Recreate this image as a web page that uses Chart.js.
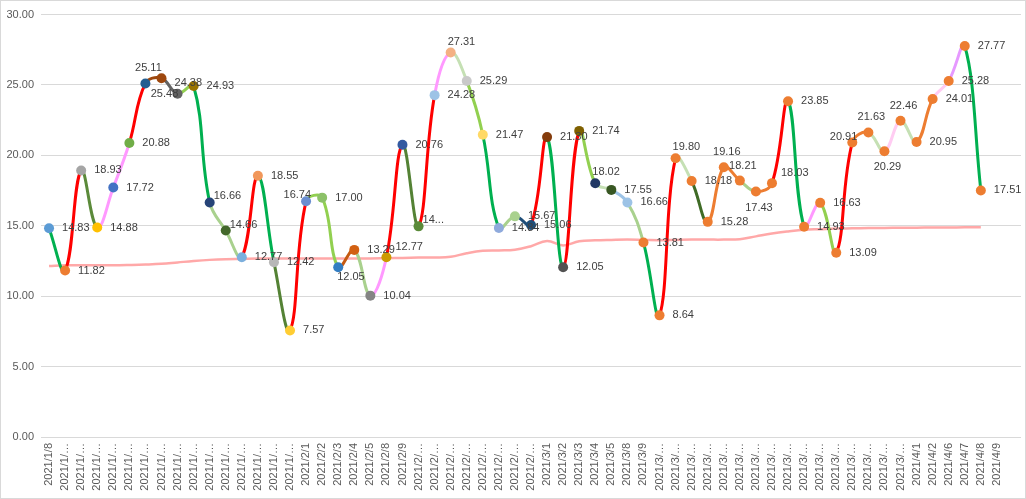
<!DOCTYPE html>
<html>
<head>
<meta charset="utf-8">
<script src="https://cdn.jsdelivr.net/npm/chart.js@4/dist/chart.umd.min.js"></script>
<style>
  body { margin: 0; background: #fff; }
  #wrap { width: 1024px; height: 497px; border: 1px solid #d9d9d9; }
  canvas { display: block; }
</style>
</head>
<body>
<div id="wrap"><canvas id="priceChart" width="1024" height="497"></canvas></div>
<script>
const categories = [
  '2021/1/8', '2021/1/11', '2021/1/12', '2021/1/13', '2021/1/14', '2021/1/15', '2021/1/18', '2021/1/19',
  '2021/1/20', '2021/1/21', '2021/1/22', '2021/1/25', '2021/1/26', '2021/1/27', '2021/1/28', '2021/1/29',
  '2021/2/1', '2021/2/2', '2021/2/3', '2021/2/4', '2021/2/5', '2021/2/8', '2021/2/9',
  '2021/2/10', '2021/2/18', '2021/2/19', '2021/2/22', '2021/2/23', '2021/2/24', '2021/2/25', '2021/2/26',
  '2021/3/1', '2021/3/2', '2021/3/3', '2021/3/4', '2021/3/5', '2021/3/8', '2021/3/9',
  '2021/3/10', '2021/3/11', '2021/3/12', '2021/3/15', '2021/3/16', '2021/3/17', '2021/3/18', '2021/3/19',
  '2021/3/22', '2021/3/23', '2021/3/24', '2021/3/25', '2021/3/26', '2021/3/29', '2021/3/30', '2021/3/31',
  '2021/4/1', '2021/4/2', '2021/4/6', '2021/4/7', '2021/4/8', '2021/4/9', ''
];

const values = [
  14.83, 11.82, 18.93, 14.88, 17.72, 20.88, 25.11, 25.48, 24.38, 24.93, 16.66, 14.66, 12.77, 18.55, 12.42, 7.57,
  16.74, 17.00, 12.05, 13.29, 10.04, 12.77, 20.76,
  14.96, 24.28, 27.31, 25.29, 21.47, 14.84, 15.67, 15.06,
  21.30, 12.05, 21.74, 18.02, 17.55, 16.66, 13.81,
  8.64, 19.80, 18.18, 15.28, 19.16, 18.21, 17.43, 18.03, 23.85, 14.93, 16.63, 13.09, 20.91, 21.63, 20.29, 22.46,
  20.95, 24.01, 25.28, 27.77, 17.51, null, null
];

const averages = [
  12.15, 12.2, 12.2, 12.2, 12.2, 12.22, 12.25, 12.3, 12.4, 12.5, 12.58, 12.63, 12.65, 12.67, 12.67, 12.67,
  12.68, 12.68, 12.68, 12.68, 12.68, 12.7, 12.72,
  12.74, 12.75, 12.8, 13.05, 13.22, 13.25, 13.3, 13.55,
  13.92, 13.6, 13.9, 13.97, 14.0, 14.02, 14.0,
  13.98, 14.0, 14.02, 14.02, 14.02, 14.05, 14.25, 14.45, 14.6, 14.72, 14.76, 14.8, 14.82, 14.84, 14.85, 14.86,
  14.87, 14.88, 14.88, 14.89, 14.9, null, null
];

const yTicks = [0, 5, 10, 15, 20, 25, 30];

// colour of each line piece, from point i to i+1
const segColors = [
  '#00b050', '#ff0000', '#5b8a3a', '#ff99ff', '#ff99ff', '#ff0000', '#9e480e', '#636363', '#92d050', '#00b050',
  '#a9d18e', '#a9d18e', '#ff0000', '#00b050', '#548235', '#ff0000', '#92d050', '#92d050', '#c55a11', '#a9d18e',
  '#ff99ff', '#ff0000', '#548235', '#ff0000', '#ff99ff', '#c5e0b4', '#92d050', '#00b050', '#a9d18e', '#1f4e79',
  '#ff0000', '#00b050', '#ff0000', '#92d050', '#c5e0b4', '#9dc3e6', '#a9d18e', '#00b050', '#ff0000', '#c5e0b4',
  '#3f6b26', '#ed7d31', '#ed7d31', '#a9d18e', '#ed7d31', '#ff0000', '#00b050', '#ff99ff', '#92d050', '#ff0000',
  '#ed7d31', '#c5e0b4', '#ffccf2', '#c5e0b4', '#ed7d31', '#ffccf2', '#e699ff', '#00b050'
];

const pointColors = [
  '#5b9bd5', '#ed7d31', '#a5a5a5', '#ffc000', '#4472c4', '#70ad47', '#255e91', '#9e480e', '#636363', '#997300',
  '#264478', '#43682b', '#7cafdd', '#f1975a', '#b7b7b7', '#ffcd33', '#698ed0', '#8cc168', '#327dc2', '#d26012',
  '#848484', '#cc9a00', '#335aa1', '#5a8a39', '#9dc3e6', '#f4b183', '#c9c9c9', '#ffd966', '#8faadc', '#a9d18e',
  '#1f4e79', '#843c0c', '#525252', '#7f6000', '#203864', '#385723', '#9dc3e6', '#ed7d31', '#ed7d31', '#ed7d31',
  '#ed7d31', '#ed7d31', '#ed7d31', '#ed7d31', '#ed7d31', '#ed7d31', '#ed7d31', '#ed7d31', '#ed7d31', '#ed7d31',
  '#ed7d31', '#ed7d31', '#ed7d31', '#ed7d31', '#ed7d31', '#ed7d31', '#ed7d31', '#ed7d31', '#ed7d31'
];

// where each value label sits around its point
const labelAnchors = [
  'r', 'r', 'r', 'r', 'r', 'r', 'a', 'b', 'ar', 'r',
  'rn', 'rn', 'r', 'r', 'r', 'r', 'al', 'r', 'br', 'r',
  'r', 'ra', 'r', 'rn', 'r', 'ar', 'r', 'r', 'r', 'r',
  'r', 'r', 'r', 'r', 'ar', 'r', 'r', 'r', 'r', 'ar',
  'r', 'r', 'a', 'a', 'b', 'ra', 'r', 'r', 'r', 'r',
  'al', 'a', 'b', 'a', 'r', 'r', 'r', 'r', 'r'
];
const labelText = { 23: '14...' };

const anchorOffsets = {
  r: { dx: 13, dy: 0, align: 'left' },
  rn: { dx: 4, dy: -6, align: 'left' },
  ra: { dx: 9, dy: -10, align: 'left' },
  ar: { dx: -3, dy: -11, align: 'left' },
  a: { dx: 3, dy: -15, align: 'center' },
  b: { dx: 3, dy: 16, align: 'center' },
  al: { dx: 5, dy: -6, align: 'right' },
  br: { dx: -1, dy: 10, align: 'left' }
};

const valueLabels = {
  id: 'valueLabels',
  afterDatasetsDraw(chart) {
    const ctx = chart.ctx;
    const meta = chart.getDatasetMeta(0);
    ctx.save();
    ctx.font = '11px "Liberation Sans", Arial, sans-serif';
    ctx.fillStyle = '#404040';
    ctx.textBaseline = 'middle';
    meta.data.forEach((pt, i) => {
      if (values[i] == null) return;
      const off = anchorOffsets[labelAnchors[i]] || anchorOffsets.r;
      ctx.textAlign = off.align;
      const txt = labelText[i] || values[i].toFixed(2);
      ctx.fillText(txt, pt.x + off.dx, pt.y + off.dy);
    });
    ctx.restore();
  }
};

const tickFont = { family: '"Liberation Sans", Arial, sans-serif', size: 11 };

const chart = new Chart(document.getElementById('priceChart').getContext('2d'), {
  type: 'line',
  data: {
    labels: categories,
    datasets: [
      {
        data: values,
        borderWidth: 3,
        tension: 0.4,
        borderColor: '#00b050',
        segment: {
          borderColor: (c) => segColors[c.p0DataIndex] || '#00b050'
        },
        pointRadius: 5,
        pointHoverRadius: 5,
        pointBackgroundColor: pointColors,
        pointBorderColor: pointColors,
        pointBorderWidth: 0
      },
      {
        data: averages,
        borderWidth: 2.5,
        tension: 0.4,
        borderColor: 'rgba(255, 110, 110, 0.6)',
        pointRadius: 0
      }
    ]
  },
  options: {
    responsive: false,
    animation: false,
    layout: { autoPadding: false, padding: { top: 8, right: 4, left: 0, bottom: 0 } },
    plugins: {
      legend: { display: false },
      tooltip: { enabled: false }
    },
    scales: {
      x: {
        offset: true,
        grid: { display: false },
        border: { display: false },
        ticks: {
          autoSkip: false,
          minRotation: 90,
          maxRotation: 90,
          padding: -2,
          color: '#595959',
          font: tickFont,
          callback: (v, i) => {
            const s = categories[i];
            return s.length > 8 ? s.slice(0, 7) + '…' : s;
          }
        },
        afterFit: (s) => { s.height = 61; }
      },
      y: {
        min: 0,
        max: 30,
        grid: { color: '#d9d9d9', drawTicks: false },
        border: { display: false },
        afterBuildTicks: (s) => { s.ticks = yTicks.map((v) => ({ value: v })); },
        ticks: {
          padding: 7,
          color: '#595959',
          font: tickFont,
          callback: (v) => Number(v).toFixed(2)
        },
        afterFit: (s) => { s.width = 40; }
      }
    }
  },
  plugins: [valueLabels]
});

// pin the plot area: top line (30) at canvas y=9, right edge at x=1020
const area = chart.chartArea;
chart.options.layout.padding.top += 9 - area.top;
chart.options.layout.padding.right += area.right - 1020;
chart.update();
</script>
</body>
</html>
